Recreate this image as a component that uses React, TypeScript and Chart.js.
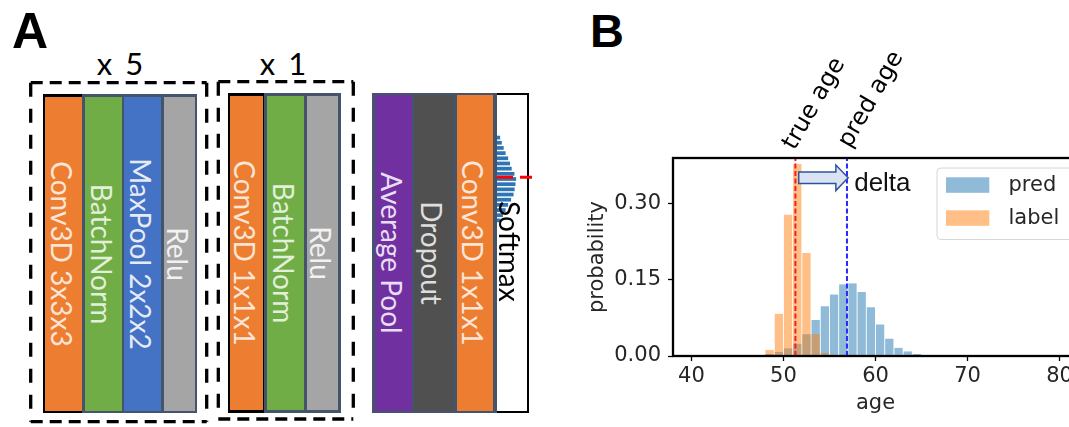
import React, { useEffect, useRef } from 'react';
import { Chart, registerables } from 'chart.js';
Chart.register(...registerables);

// ---------- data (panel B) ----------
const predBinStarts = [45, 46, 47, 48, 49, 50, 51, 52, 53, 54, 55, 56, 57, 58, 59, 60, 61, 62, 63, 64, 65];
const predProb = [0.001, 0.0015, 0.002, 0.004, 0.008, 0.015, 0.024, 0.043, 0.071, 0.098, 0.121, 0.141, 0.143, 0.126, 0.096, 0.062, 0.034, 0.016, 0.009, 0.004, 0.002];
const labelBinStarts = [48, 49, 50, 51, 52, 53, 54];
const labelProb = [0.012, 0.083, 0.278, 0.378, 0.203, 0.043, 0.006];
const trueAge = 51.3;
const predAge = 56.9;
const xTicks = [40, 50, 60, 70, 80];
const yTicks = [0, 0.15, 0.3];
const yTickLabels = ['0.00', '0.15', '0.30'];
const seriesNames = ['pred', 'label'];
const markerNames = ['true age', 'pred age'];

// ---------- data (panel A mini softmax histogram) ----------
const softmaxAges = [47, 48, 49, 50, 51, 52, 53, 54, 55, 56, 57, 58, 59, 60, 61, 62, 63];
const softmaxOut = [0.15, 0.23, 0.32, 0.41, 0.53, 0.62, 0.7, 0.83, 0.91, 0.88, 0.84, 0.79, 0.67, 0.53, 0.41, 0.28, 0.17];

// ---------- diagram labels (panel A) ----------
const block1Names = ['Conv3D 3x3x3', 'BatchNorm', 'MaxPool 2x2x2', 'Relu'];
const block2Names = ['Conv3D 1x1x1', 'BatchNorm', 'Relu'];
const block3Names = ['Average Pool', 'Dropout', 'Conv3D 1x1x1'];
const repeatLabels = ['x 5', 'x 1'];

const BLUE = 'rgba(31,119,180,0.5)';
const ORANGE = 'rgba(255,127,14,0.5)';
const TICK_FONT = { family: 'DejaVu Sans', size: 21 };
const ARROW_Y = 0.351;

const overlayPlugin = {
  id: 'overlay',
  afterDatasetsDraw(chart: any) {
    const { ctx, chartArea: ca, scales } = chart;
    const x = scales.x;
    const y = scales.y;
    ctx.save();
    // vertical marker lines
    const xt = x.getPixelForValue(trueAge);
    const xp = x.getPixelForValue(predAge);
    ctx.lineWidth = 2;
    ctx.setLineDash([5, 2.5]);
    ctx.strokeStyle = 'rgb(245,30,30)';
    ctx.beginPath(); ctx.moveTo(xt, ca.bottom); ctx.lineTo(xt, ca.top); ctx.stroke();
    ctx.strokeStyle = 'rgb(40,40,255)';
    ctx.beginPath(); ctx.moveTo(xp, ca.bottom); ctx.lineTo(xp, ca.top); ctx.stroke();
    ctx.setLineDash([]);

    // block arrow (delta)
    const x0 = xt + 3.3;
    const x1 = xp + 1.2;
    const yc = y.getPixelForValue(ARROW_Y);
    const bh = 5.8, hh = 12.8, hl = 12.3;
    ctx.beginPath();
    ctx.moveTo(x0, yc - bh);
    ctx.lineTo(x1 - hl, yc - bh);
    ctx.lineTo(x1 - hl, yc - hh);
    ctx.lineTo(x1, yc);
    ctx.lineTo(x1 - hl, yc + hh);
    ctx.lineTo(x1 - hl, yc + bh);
    ctx.lineTo(x0, yc + bh);
    ctx.closePath();
    ctx.fillStyle = '#dae3f3';
    ctx.fill();
    ctx.lineWidth = 1.5;
    ctx.strokeStyle = '#2f5597';
    ctx.stroke();
    ctx.fillStyle = '#111';
    ctx.font = '26px "Liberation Sans"';
    ctx.textAlign = 'left';
    ctx.textBaseline = 'alphabetic';
    ctx.fillText('delta', x1 + 6, yc + 12.7);

    // rotated marker names
    ctx.font = '24px "DejaVu Sans"';
    ctx.fillStyle = '#000';
    const marks = [
      { px: xt, dx: -1, dy: -7 },
      { px: xp, dx: 3, dy: -9 },
    ];
    marks.forEach((m, i) => {
      ctx.save();
      ctx.translate(m.px + m.dx, ca.top + m.dy);
      ctx.rotate(-Math.PI / 3);
      ctx.fillText(markerNames[i], 0, 0);
      ctx.restore();
    });

    // frame
    ctx.lineWidth = 2.3;
    ctx.strokeStyle = '#000';
    ctx.strokeRect(ca.left, ca.top, ca.width, ca.height);

    // legend
    const lx = ca.right - 141;
    const ly = ca.top + 10;
    ctx.beginPath();
    ctx.roundRect(lx, ly, 150, 71.5, 4);
    ctx.fillStyle = 'rgba(255,255,255,0.85)';
    ctx.fill();
    ctx.lineWidth = 1;
    ctx.strokeStyle = '#d6d6d6';
    ctx.stroke();
    ctx.font = '21px "DejaVu Sans"';
    ctx.textBaseline = 'middle';
    chart.data.datasets.forEach((ds: any, i: number) => {
      const sy = ly + 9.3 + i * 33;
      ctx.fillStyle = ds.backgroundColor;
      ctx.fillRect(lx + 9, sy, 43.3, 15.5);
      ctx.fillStyle = '#262626';
      ctx.fillText(seriesNames[i], lx + 71.5, sy + 8);
    });
    ctx.restore();
  },
};

function HistChart() {
  const ref = useRef<HTMLCanvasElement | null>(null);
  useEffect(() => {
    if (!ref.current) return;
    const chart = new Chart(ref.current, {
      type: 'bar',
      data: {
        datasets: [
          {
            label: seriesNames[0],
            data: predBinStarts.map((a, i) => ({ x: a + 0.5, y: predProb[i] })),
            backgroundColor: BLUE,
            grouped: false,
            order: 1,
            barPercentage: 0.9,
            categoryPercentage: 1,
          } as any,
          {
            label: seriesNames[1],
            data: labelBinStarts.map((a, i) => ({ x: a + 0.5, y: labelProb[i] })),
            backgroundColor: ORANGE,
            grouped: false,
            order: 0,
            barPercentage: 0.9,
            categoryPercentage: 1,
          } as any,
        ],
      },
      options: {
        responsive: false,
        animation: false,
        layout: { padding: { top: 158, right: 2, left: 0, bottom: 0 } },
        plugins: { legend: { display: false }, tooltip: { enabled: false } },
        scales: {
          x: {
            type: 'linear',
            min: 38,
            max: 82,
            offset: false,
            afterBuildTicks: (s: any) => { s.ticks = xTicks.map((v) => ({ value: v })); },
            afterFit: (s: any) => { s.height = 71; },
            grid: { offset: false, drawOnChartArea: false, drawTicks: true, tickLength: 5, tickColor: '#000', tickWidth: 1.3 },
            border: { display: false },
            ticks: { font: TICK_FONT, color: '#262626', padding: 3, maxRotation: 0, autoSkip: false, callback: (v: any) => String(v) },
            title: { display: true, text: 'age', font: TICK_FONT, color: '#262626', padding: { top: 0, bottom: 11 } },
          },
          y: {
            min: 0,
            max: 0.39,
            afterBuildTicks: (s: any) => { s.ticks = yTicks.map((v) => ({ value: v })); },
            afterFit: (s: any) => { s.width = 93; },
            grid: { drawOnChartArea: false, drawTicks: true, tickLength: 5, tickColor: '#000', tickWidth: 1.3 },
            border: { display: false },
            ticks: { font: TICK_FONT, color: '#262626', padding: 7, autoSkip: false, callback: (v: any) => yTickLabels[yTicks.indexOf(v)] ?? '' },
            title: { display: true, text: 'probability', font: TICK_FONT, color: '#262626', padding: { top: 5, bottom: 4 } },
          },
        },
      } as any,
      plugins: [overlayPlugin],
    });
    return () => chart.destroy();
  }, []);
  return <canvas ref={ref} width={500} height={427} style={{ position: 'absolute', left: 580, top: 0, width: 500, height: 427 }} />;
}

function SoftmaxMini() {
  const ref = useRef<HTMLCanvasElement | null>(null);
  useEffect(() => {
    if (!ref.current) return;
    const chart = new Chart(ref.current, {
      type: 'bar',
      data: {
        labels: softmaxAges.map(String),
        datasets: [{ data: softmaxOut, backgroundColor: '#2e75b6', barPercentage: 0.72, categoryPercentage: 1 }],
      },
      options: {
        indexAxis: 'y',
        responsive: false,
        animation: false,
        layout: { padding: 0 },
        plugins: { legend: { display: false }, tooltip: { enabled: false } },
        scales: {
          x: { display: false, min: 0, max: 1 },
          y: { display: false },
        },
      } as any,
    });
    return () => chart.destroy();
  }, []);
  return <canvas ref={ref} width={21} height={88} style={{ position: 'absolute', left: 497, top: 134.5, width: 21, height: 88 }} />;
}

const LFONT = '28px Lato';

function Strip({ left, right, top, bottom, color, text, textColor }: any) {
  return (
    <div style={{ position: 'absolute', left, top, width: right - left, height: bottom - top, background: color }}>
      <span style={{ position: 'absolute', left: 'calc(50% - 1.5px)', top: '50%', transform: 'translate(-50%,-50%)', writingMode: 'vertical-rl', whiteSpace: 'nowrap', color: textColor, font: LFONT, lineHeight: 1 }}>{text}</span>
    </div>
  );
}

function Box({ left, right, top, bottom, color }: any) {
  return <div style={{ position: 'absolute', left, top, width: right - left, height: bottom - top, background: color }} />;
}

function DashedRect({ x0, y0, x1, y1 }: any) {
  const common = { stroke: '#000', strokeWidth: 3.3, fill: 'none' } as any;
  return (
    <g>
      <line x1={x0} y1={y0} x2={x1} y2={y0} {...common} strokeDasharray="12 7" />
      <line x1={x0} y1={y1} x2={x1} y2={y1} {...common} strokeDasharray="12 7" />
      <line x1={x0} y1={y0} x2={x0} y2={y1} {...common} strokeDasharray="14 12" />
      <line x1={x1} y1={y0} x2={x1} y2={y1} {...common} strokeDasharray="14 12" />
    </g>
  );
}

const SLATE = '#44546a';
const C_ORANGE = '#ed7d31';
const C_GREEN = '#70ad47';
const C_BLUE = '#4472c4';
const C_GRAY = '#a5a5a5';
const C_PURPLE = '#7030a0';
const C_DARK = '#505050';

const repeatStyle: any = { position: 'absolute', top: 63, transform: 'translate(-50%,-50%)', font: '31px Lato', wordSpacing: 5, lineHeight: 1, color: '#000', whiteSpace: 'nowrap' };

export default function App() {
  return (
    <div style={{ position: 'absolute', left: 0, top: 0, width: 1069, height: 427, overflow: 'hidden', background: '#fff' }}>
      {/* Panel letters */}
      <div style={{ position: 'absolute', left: 12, top: 6, font: 'bold 50px "Liberation Sans"', lineHeight: 1, color: '#000' }}>A</div>
      <div style={{ position: 'absolute', left: 590, top: 7, font: 'bold 47px "Liberation Sans"', lineHeight: 1, color: '#000' }}>B</div>

      {/* repeat labels */}
      <div style={{ ...repeatStyle, left: 120 }}>{repeatLabels[0]}</div>
      <div style={{ ...repeatStyle, left: 283 }}>{repeatLabels[1]}</div>

      {/* Block 1 */}
      <Box left={42.7} right={197.3} top={94.3} bottom={413.3} color={SLATE} />
      <Box left={42.7} right={82.5} top={94.3} bottom={413.3} color={'#000'} />
      <Strip left={45} right={81.7} top={96.7} bottom={410.7} color={C_ORANGE} text={block1Names[0]} textColor="#fbe5d6" />
      <Strip left={85} right={121.7} top={96.7} bottom={410.7} color={C_GREEN} text={block1Names[1]} textColor="#e2f0d9" />
      <Strip left={124.3} right={161} top={96.7} bottom={410.7} color={C_BLUE} text={block1Names[2]} textColor="#e4ebf7" />
      <Strip left={164} right={195} top={96.7} bottom={410.7} color={C_GRAY} text={block1Names[3]} textColor="#f2f2f2" />

      {/* Block 2 */}
      <Box left={227.7} right={341} top={93.3} bottom={412.7} color={SLATE} />
      <Box left={227.7} right={264} top={93.3} bottom={412.7} color={'#000'} />
      <Strip left={230} right={263.3} top={95.7} bottom={410.3} color={C_ORANGE} text={block2Names[0]} textColor="#fbe5d6" />
      <Strip left={266.7} right={304.3} top={95.7} bottom={410.3} color={C_GREEN} text={block2Names[1]} textColor="#e2f0d9" />
      <Strip left={307.3} right={338.3} top={95.7} bottom={410.3} color={C_GRAY} text={block2Names[2]} textColor="#f2f2f2" />

      {/* Block 3 */}
      <Box left={371.7} right={496.7} top={92.7} bottom={413.3} color={SLATE} />
      <Strip left={375} right={411.7} top={95.3} bottom={410.7} color={C_PURPLE} text={block3Names[0]} textColor="#e8def4" />
      <Strip left={414.3} right={453.3} top={95.3} bottom={410.7} color={C_DARK} text={block3Names[1]} textColor="#dedede" />
      <Strip left={456.7} right={493.3} top={95.3} bottom={410.7} color={C_ORANGE} text={block3Names[2]} textColor="#fbe5d6" />

      {/* Softmax box */}
      <div style={{ position: 'absolute', left: 496.7, top: 92.7, width: 30.6, height: 316, background: '#fff', borderTop: '2px solid #000', borderRight: '2px solid #000', borderBottom: '2px solid #000' }} />
      <SoftmaxMini />
      <span style={{ position: 'absolute', left: 496, top: 201, writingMode: 'vertical-rl', whiteSpace: 'nowrap', color: '#000', font: LFONT, lineHeight: 1 }}>Softmax</span>

      <svg width={1069} height={427} style={{ position: 'absolute', left: 0, top: 0, pointerEvents: 'none' }}>
        <DashedRect x0={30.7} y0={82.7} x1={206.7} y1={421.7} />
        <DashedRect x0={218.3} y0={81.7} x1={353.3} y1={419} />
        <line x1={497} y1={177.3} x2={532} y2={177.3} stroke="#ff0000" strokeWidth={3} strokeDasharray="16 7" />
      </svg>

      <HistChart />
    </div>
  );
}
